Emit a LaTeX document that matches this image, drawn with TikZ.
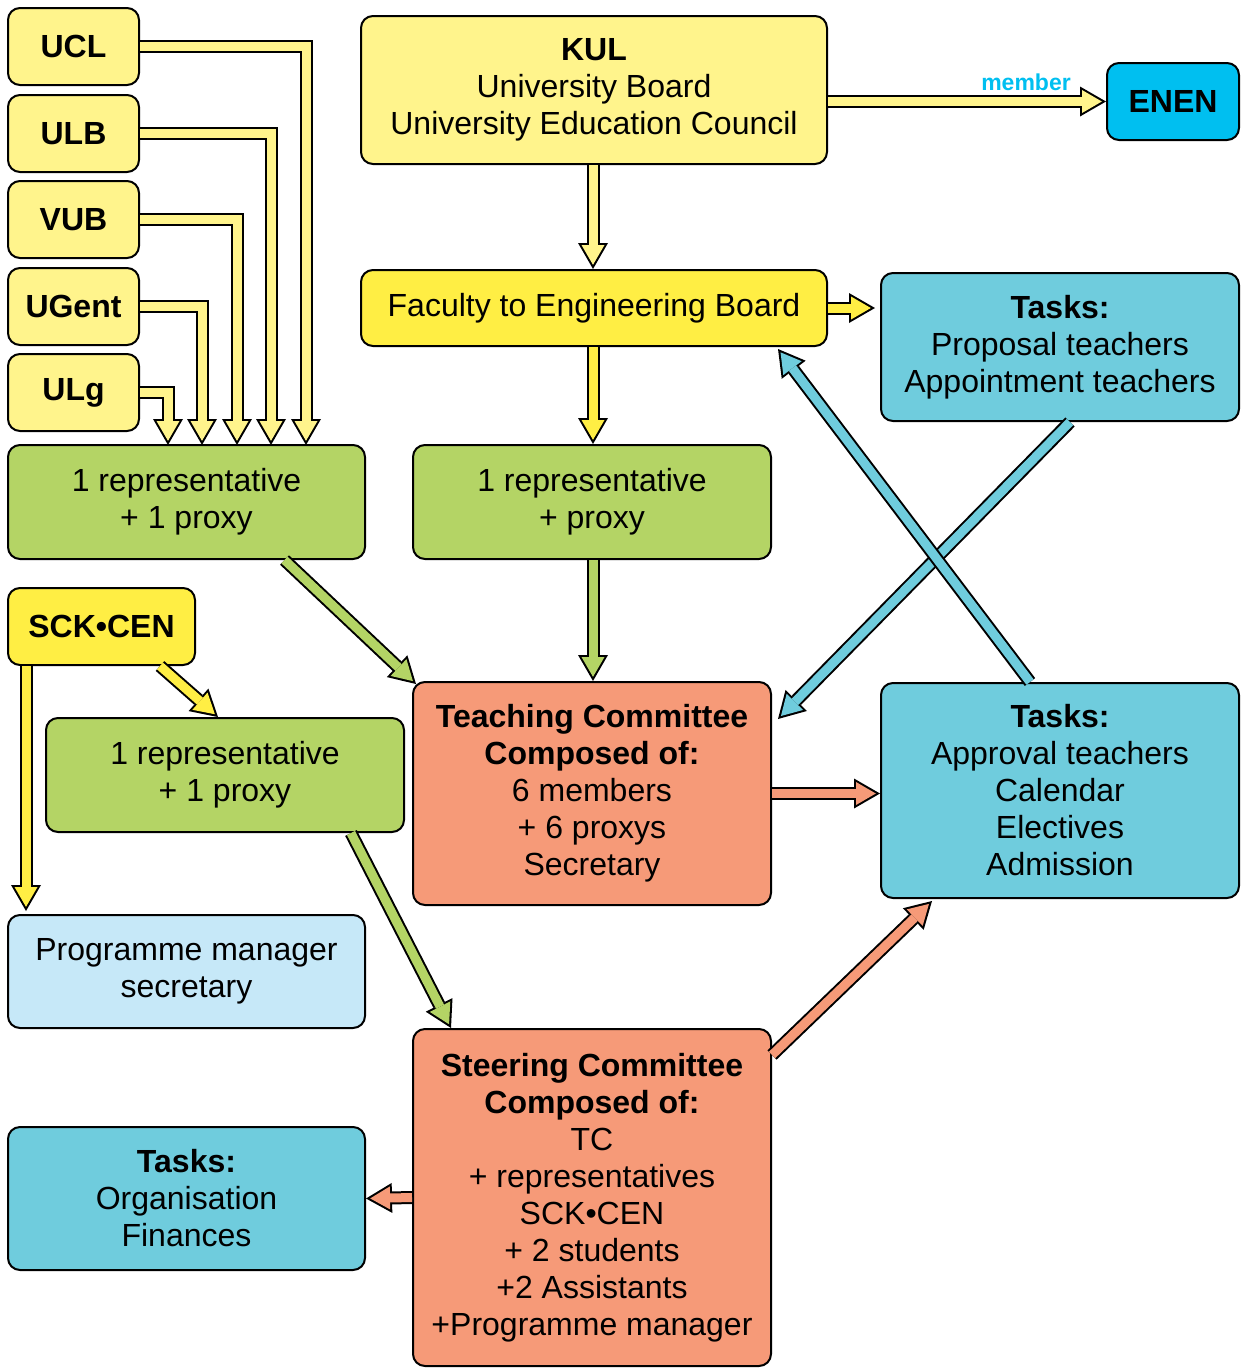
\documentclass[tikz,border=0pt]{standalone}
\usepackage{fontspec}
\setmainfont{Liberation Sans}
\usetikzlibrary{arrows.meta}

\definecolor{lyel}{HTML}{FFF48C}
\definecolor{byel}{HTML}{FFEE44}
\definecolor{grn}{HTML}{B4D465}
\definecolor{salm}{HTML}{F69A78}
\definecolor{teal}{HTML}{6FCCDD}
\definecolor{cyn}{HTML}{00BFF0}
\definecolor{lblue}{HTML}{C6E8F8}

\tikzset{
  box/.style={draw, line width=2pt, rounded corners=12pt, align=center, inner sep=0pt,
    font=\fontsize{32}{37}\selectfont},
  fatout/.style={draw=black, line width=13pt, -{Triangle[width=30pt,length=26pt,line width=0pt]}},
  fatin/.style={draw=#1, line width=9pt, shorten >=4.2pt, -{Triangle[width=23pt,length=19.8pt,line width=0pt]}},
  memberlbl/.style={text=cyn, font=\fontsize{23}{27}\selectfont\bfseries, inner sep=0pt}
}
% outline first, then the coloured body
\newcommand\blockarrow[2]{\draw[fatout] #2; \draw[fatin=#1] #2;}

\begin{document}
\begin{tikzpicture}[line cap=butt,line join=miter,x=1pt,y=-1pt]
\useasboundingbox (0,0) rectangle (1245,1369);
% universities
\node[box, fill=lyel, minimum width=131pt, minimum height=77pt] (ucl) at (73.5,46.5) {\textbf{UCL}};
\node[box, fill=lyel, minimum width=131pt, minimum height=77pt] (ulb) at (73.5,133.5) {\textbf{ULB}};
\node[box, fill=lyel, minimum width=131pt, minimum height=77pt] (vub) at (73.5,219.5) {\textbf{VUB}};
\node[box, fill=lyel, minimum width=131pt, minimum height=77pt] (ugent) at (73.5,306.5) {\textbf{UGent}};
\node[box, fill=lyel, minimum width=131pt, minimum height=77pt] (ulg) at (73.5,392.5) {\textbf{ULg}};
% KUL side
\node[box, fill=lyel, minimum width=466pt, minimum height=148pt] (kul) at (594,90) {\textbf{KUL}\\University Board\\University Education Council};
\node[box, fill=cyn, minimum width=132pt, minimum height=77pt] (enen) at (1173,101.5) {\textbf{ENEN}};
\node[box, fill=byel, minimum width=466pt, minimum height=76pt] (faculty) at (594,308) {Faculty to Engineering Board};
\node[box, fill=teal, minimum width=358pt, minimum height=148pt] (tasksa) at (1060,347) {\textbf{Tasks:}\\Proposal teachers\\Appointment teachers};
% representatives
\node[box, fill=grn, minimum width=357pt, minimum height=114pt] (rep1) at (186.5,502) {1 representative\\+ 1 proxy};
\node[box, fill=grn, minimum width=358pt, minimum height=114pt] (rep2) at (592,502) {1 representative\\+ proxy};
\node[box, fill=byel, minimum width=187pt, minimum height=77pt] (sck) at (101.5,626.5) {\textbf{SCK•CEN}};
\node[box, fill=grn, minimum width=358pt, minimum height=114pt] (rep3) at (225,775) {1 representative\\+ 1 proxy};
% committees
\node[box, fill=salm, minimum width=358pt, minimum height=223pt] (teaching) at (592,793.5) {\textbf{Teaching Committee}\\\textbf{Composed of:}\\6 members\\+ 6 proxys\\Secretary};
\node[box, fill=teal, minimum width=358pt, minimum height=215pt] (tasksb) at (1060,790.5) {\textbf{Tasks:}\\Approval teachers\\Calendar\\Electives\\Admission};
\node[box, fill=lblue, minimum width=357pt, minimum height=113pt] (progman) at (186.5,971.5) {Programme manager\\secretary};
\node[box, fill=salm, minimum width=358pt, minimum height=337pt] (steering) at (592,1197.5) {\textbf{Steering Committee}\\\textbf{Composed of:}\\TC\\+ representatives\\SCK•CEN\\+ 2 students\\+2 Assistants\\+Programme manager};
\node[box, fill=teal, minimum width=357pt, minimum height=143pt] (tasksc) at (186.5,1198.5) {\textbf{Tasks:}\\Organisation\\Finances};

% drop points above the representative box
\coordinate (dropucl) at (306,445);
\coordinate (dropulb) at (271,445);
\coordinate (dropvub) at (237,445);
\coordinate (dropugent) at (202,445);
\coordinate (dropulg) at (168,445);

\blockarrow{lyel}{(ucl.east) -| (dropucl)}
\blockarrow{lyel}{(ulb.east) -| (dropulb)}
\blockarrow{lyel}{(vub.east) -| (dropvub)}
\blockarrow{lyel}{(ugent.east) -| (dropugent)}
\blockarrow{lyel}{(ulg.east) -| (dropulg)}

\blockarrow{lyel}{(kul.east |- enen.west) -- (enen.west)}
\node[memberlbl] (memb) at (1026,82) {member};
\blockarrow{lyel}{([xshift=-1pt]kul.south) -- ([xshift=-1pt]faculty.north)}
\blockarrow{byel}{(faculty.east) -- ([xshift=-5pt]faculty.east -| tasksa.west)}
\blockarrow{byel}{([xshift=1pt]rep2.north |- faculty.south) -- ([xshift=1pt]rep2.north)}

\blockarrow{grn}{([xshift=98pt]rep1.south) -- ([xshift=4pt,yshift=-3pt]teaching.north west)}
\blockarrow{grn}{([xshift=1pt]rep2.south) -- ([xshift=1pt]teaching.north)}

\blockarrow{teal}{([xshift=10pt]tasksa.south) -- ([xshift=6pt,yshift=-38pt]teaching.north east)}
\blockarrow{teal}{([xshift=-30pt]tasksb.north) -- ([xshift=-50pt,yshift=-2pt]faculty.south east)}

\blockarrow{byel}{([xshift=58.5pt]sck.south) -- ([xshift=-7pt]rep3.north)}
\blockarrow{byel}{([xshift=19pt]sck.south west) -- ([xshift=19pt,yshift=3pt]progman.north west)}
\blockarrow{grn}{([xshift=-54pt]rep3.south east) -- ([xshift=39pt]steering.north west)}

\blockarrow{salm}{(teaching.east) -- (teaching.east -| tasksb.west)}
\blockarrow{salm}{([yshift=-27pt]steering.north east) -- ([xshift=52pt,yshift=-2pt]tasksb.south west)}
\blockarrow{salm}{(steering.west) -- (tasksc.east)}
\end{tikzpicture}
\end{document}
